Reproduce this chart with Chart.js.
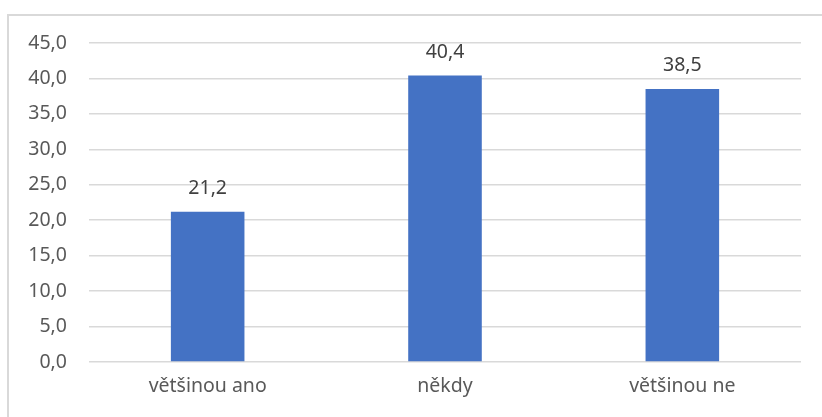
<!DOCTYPE html>
<html><head><meta charset="utf-8">
<script src="https://cdn.jsdelivr.net/npm/chart.js@4"></script>
<style>html,body{margin:0;padding:0;background:#fff}#wrap{width:822px;height:417px;position:relative}</style>
</head><body><div id="wrap"><canvas id="c"></canvas></div>
<script>
const categories = ["většinou ano", "někdy", "většinou ne"];
const values = [21.2, 40.4, 38.5];
const yTicks = [0, 5, 10, 15, 20, 25, 30, 35, 40, 45];
const fmt = v => v.toFixed(1).replace('.', ',');
const FONT = "'Noto Sans', sans-serif";
const FS = 19.5;

const frame = {
  id: 'frame',
  beforeDraw(chart) {
    const ctx = chart.ctx;
    ctx.save();
    ctx.fillStyle = '#fff';
    ctx.fillRect(0, 0, chart.width, chart.height);
    ctx.strokeStyle = '#d9d9d9';
    ctx.lineWidth = 2;
    ctx.strokeRect(8, 15, 900, 500);
    ctx.restore();
  },
  afterDatasetsDraw(chart) {
    const ctx = chart.ctx;
    const meta = chart.getDatasetMeta(0);
    ctx.save();
    ctx.font = FS + 'px ' + FONT;
    ctx.fillStyle = '#404040';
    ctx.textAlign = 'center';
    ctx.textBaseline = 'alphabetic';
    meta.data.forEach((bar, i) => {
      ctx.fillText(fmt(values[i]), bar.x, bar.y - 18);
    });
    ctx.restore();
  }
};

new Chart(document.getElementById('c'), {
  type: 'bar',
  data: { labels: categories, datasets: [{ data: values, backgroundColor: '#4472C4', categoryPercentage: 1, barPercentage: 0.31 }] },
  options: {
    responsive: true, maintainAspectRatio: false, animation: false,
    layout: { padding: { left: 0, top: 43, right: 21, bottom: 0 } },
    plugins: { legend: { display: false }, tooltip: { enabled: false } },
    scales: {
      x: {
        grid: { display: false, drawTicks: false },
        border: { display: false },
        ticks: { color: '#595959', font: { family: FONT, size: FS }, padding: 13 },
        afterFit(s) { s.height = 55; }
      },
      y: {
        min: 0, max: 45,
        afterBuildTicks(s) { s.ticks = yTicks.map(v => ({ value: v })); },
        grid: { color: '#d9d9d9', lineWidth: 1.5, drawTicks: false },
        border: { display: false },
        ticks: { color: '#595959', font: { family: FONT, size: FS }, padding: 22, callback: v => fmt(v) },
        afterFit(s) { s.width = 89; }
      }
    }
  },
  plugins: [frame]
});
</script></body></html>
